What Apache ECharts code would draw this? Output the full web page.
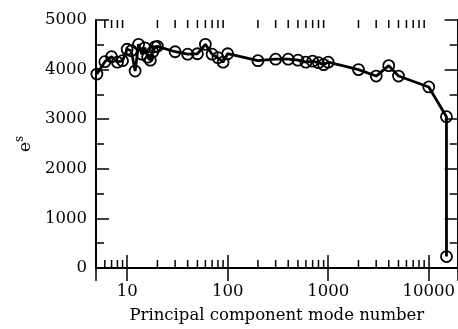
<!DOCTYPE html>
<html>
<head>
<meta charset="utf-8">
<script src="https://cdn.jsdelivr.net/npm/echarts@6/dist/echarts.min.js"></script>
<style>
  html, body { margin: 0; padding: 0; background: #fff; }
  #chart { width: 458px; height: 329px; }
</style>
</head>
<body>
<div id="chart"></div>
<script>
// mode numbers and e^s values
const modes = [5, 6, 7, 8, 9, 10, 11, 12, 13, 14, 15, 16, 17, 18, 19, 20,
  30, 40, 50, 60, 70, 80, 90, 100, 200, 300, 400, 500, 600, 700, 800, 900,
  1000, 2000, 3000, 4000, 5000, 10000, 15000, 15010]
const es = [3910, 4160, 4260, 4150, 4180, 4410, 4380, 3970, 4510, 4310, 4440, 4250, 4190, 4360, 4460, 4470,
  4360, 4310, 4320, 4510, 4310, 4240, 4150, 4320, 4180, 4210, 4210, 4190, 4150, 4170, 4140, 4100,
  4150, 4000, 3870, 4080, 3870, 3650, 3050, 230]
// minor ticks of the log axis (2..9 per decade)
const minorX = [6, 7, 8, 9, 20, 30, 40, 50, 60, 70, 80, 90, 200, 300, 400, 500, 600, 700, 800, 900,
  2000, 3000, 4000, 5000, 6000, 7000, 8000, 9000]

const font = 'DejaVu Serif'
const xMin = 4.9, xMax = 19400, yMin = 0, yMax = 5000

let chart = echarts.init(document.getElementById('chart'))

const xCommon = {
  type: 'log',
  logBase: 10,
  min: xMin,
  max: xMax,
  axisLine: { lineStyle: { color: '#000', width: 2 } },
  axisTick: { inside: true, length: 13, lineStyle: { color: '#000', width: 1.5 } },
  splitLine: { show: false },
  minorTick: { show: false },
}
const yCommon = {
  type: 'value',
  min: yMin,
  max: yMax,
  interval: 1000,
  axisLine: { show: true, lineStyle: { color: '#000', width: 2 } },
  axisTick: { inside: true, length: 13, lineStyle: { color: '#000', width: 1.5 } },
  minorTick: { show: true, splitNumber: 2, length: 8, lineStyle: { color: '#000', width: 1.5 } },
  splitLine: { show: false },
}

chart.setOption({
  animation: false,
  grid: { left: 96, right: -2, top: 20, bottom: 55 },
  xAxis: [
    Object.assign({}, xCommon, {
      position: 'bottom',
      name: 'Principal component mode number',
      nameLocation: 'middle',
      nameGap: 39,
      nameTextStyle: { color: '#000', fontFamily: font, fontSize: 16.5 },
      axisLabel: {
        color: '#000', fontFamily: font, fontSize: 16.5, margin: 15,
        showMinLabel: false, showMaxLabel: false,
        formatter: v => String(Math.round(v))
      },
    }),
    Object.assign({}, xCommon, { position: 'top', axisLabel: { show: false } }),
  ],
  yAxis: [
    Object.assign({}, yCommon, {
      position: 'left',
      name: '{e|e}{s|s}',
      nameLocation: 'middle',
      nameGap: 53,
      nameRotate: 90,
      nameTextStyle: {
        rich: {
          e: { color: '#000', fontFamily: font, fontSize: 17 },
          s: { color: '#000', fontFamily: font, fontSize: 12, verticalAlign: 'top', padding: [0, 0, 12, 0] },
        }
      },
      axisLabel: { color: '#000', fontFamily: font, fontSize: 16.5, margin: 9, formatter: v => String(v) },
    }),
    Object.assign({}, yCommon, { position: 'right', axisLabel: { show: false } }),
  ],
  series: [
    {
      type: 'line',
      data: modes.map((m, i) => [m, es[i]]),
      symbol: 'circle',
      symbolSize: 11,
      showAllSymbol: true,
      lineStyle: { color: '#000', width: 2.8 },
      itemStyle: { color: 'rgba(0,0,0,0)', borderColor: '#000', borderWidth: 1.8 },
      z: 3,
    },
    {
      // minor ticks on bottom and top of the log axis
      type: 'custom',
      silent: true,
      data: minorX.map(v => [v, yMin]),
      renderItem: (params, api) => {
        const b = api.coord([api.value(0), yMin])
        const t = api.coord([api.value(0), yMax])
        return {
          type: 'group',
          children: [
            { type: 'line', shape: { x1: b[0], y1: b[1], x2: b[0], y2: b[1] - 8 }, style: { stroke: '#000', lineWidth: 1.5 } },
            { type: 'line', shape: { x1: t[0], y1: t[1], x2: t[0], y2: t[1] + 8 }, style: { stroke: '#000', lineWidth: 1.5 } },
          ]
        }
      },
      z: 2,
    },
  ],
})
</script>
</body>
</html>
